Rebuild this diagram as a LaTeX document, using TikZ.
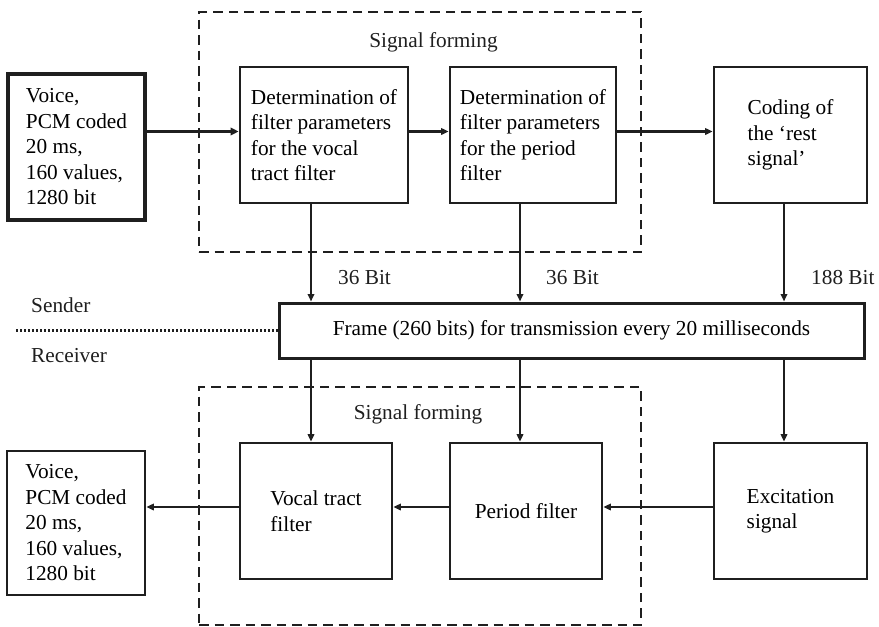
\documentclass[tikz,border=0pt]{standalone}
\usepackage{fontspec}
\setmainfont{Liberation Serif}
\usetikzlibrary{arrows.meta}
\begin{document}
\begin{tikzpicture}[x=1pt,y=-1pt,
  font=\fontsize{21.3}{25.5}\selectfont,
  blockbox/.style={draw=black!88, line width=2.8pt, align=left, inner sep=0pt},
  sourcebox/.style={blockbox, line width=4.2pt},
  groupbox/.style={draw=black!88, line width=2.3pt, dash pattern=on 9.5pt off 6pt, inner sep=0pt},
  arr/.style={draw=black!88, line width=2.1pt, -{Triangle[length=7.5pt,width=6.5pt]}},
  thickarr/.style={arr, line width=3.3pt, -{Triangle[length=8pt,width=7.5pt]}},
  dotline/.style={draw=black!88, line width=2.3pt, dash pattern=on 2pt off 2pt},
  lbl/.style={inner sep=0pt, text=black!88}
]
\useasboundingbox (0,0) rectangle (879,627);

% signal forming groups
\node[groupbox, minimum width=442pt, minimum height=240pt] (gtop) at (420,132) {};
\node[groupbox, minimum width=442pt, minimum height=238pt] (gbot) at (420,506) {};
\node[lbl] (gtoplbl) at (433.5,42) {Signal forming};
\node[lbl] (gbotlbl) at (418,414) {Signal forming};

% sender side
\node[sourcebox, minimum width=137pt, minimum height=146pt] (src) at (76.5,147)
  {Voice,\\PCM coded\\20 ms,\\160 values,\\1280 bit};
\node[blockbox, minimum width=168pt, minimum height=136pt] (vtp) at (324,135)
  {Determination of\\filter parameters\\for the vocal\\tract filter};
\node[blockbox, minimum width=166pt, minimum height=136pt] (pfp) at (533,135)
  {Determination of\\filter parameters\\for the period\\filter};
\node[blockbox, minimum width=153pt, minimum height=136pt] (rest) at (790.5,135)
  {Coding of\\the ‘rest\\signal’};

% transmission frame
\node[blockbox, line width=3pt, minimum width=585pt, minimum height=55pt] (frame) at (571.5,330.5)
  {Frame (260 bits) for transmission every 20 milliseconds};

% receiver side
\node[blockbox, minimum width=152pt, minimum height=136pt] (vtf) at (316,511)
  {Vocal tract\\filter};
\node[blockbox, minimum width=152pt, minimum height=136pt] (pf) at (526,511)
  {Period filter};
\node[blockbox, minimum width=153pt, minimum height=136pt] (exc) at (790.5,511)
  {Excitation\\signal};
\node[blockbox, minimum width=138pt, minimum height=144pt] (dst) at (76,523)
  {Voice,\\PCM coded\\20 ms,\\160 values,\\1280 bit};

% sender / receiver divide
\coordinate (divstart) at (16,330.5);
\draw[dotline] (divstart) -- (frame.west);
\node[lbl, anchor=west] (sender) at (31,305) {Sender};
\node[lbl, anchor=west] (receiver) at (31,356) {Receiver};

% routing columns and rows
\coordinate (col1) at (311,0);
\coordinate (col2) at (520,0);
\coordinate (col3) at (784,0);
\coordinate (rowtop) at (0,131.5);
\coordinate (rowbot) at (0,507);

% sender chain
\draw[thickarr] (src.east |- rowtop) -- (vtp.west |- rowtop);
\draw[arr] (vtp.east |- rowtop) -- (pfp.west |- rowtop);
\draw[arr] (pfp.east |- rowtop) -- (rest.west |- rowtop);

% into the frame
\draw[arr] (vtp.south -| col1) -- (frame.north -| col1);
\draw[arr] (pfp.south -| col2) -- (frame.north -| col2);
\draw[arr] (rest.south -| col3) -- (frame.north -| col3);
\node[lbl, anchor=west] (bits1) at (338,278) {36 Bit};
\node[lbl, anchor=west] (bits2) at (546,278) {36 Bit};
\node[lbl, anchor=west] (bits3) at (811,278) {188 Bit};

% out of the frame
\draw[arr] (frame.south -| col1) -- (vtf.north -| col1);
\draw[arr] (frame.south -| col2) -- (pf.north -| col2);
\draw[arr] (frame.south -| col3) -- (exc.north -| col3);

% receiver chain
\draw[arr] (exc.west |- rowbot) -- (pf.east |- rowbot);
\draw[arr] (pf.west |- rowbot) -- (vtf.east |- rowbot);
\draw[arr] (vtf.west |- rowbot) -- (dst.east |- rowbot);
\end{tikzpicture}
\end{document}
